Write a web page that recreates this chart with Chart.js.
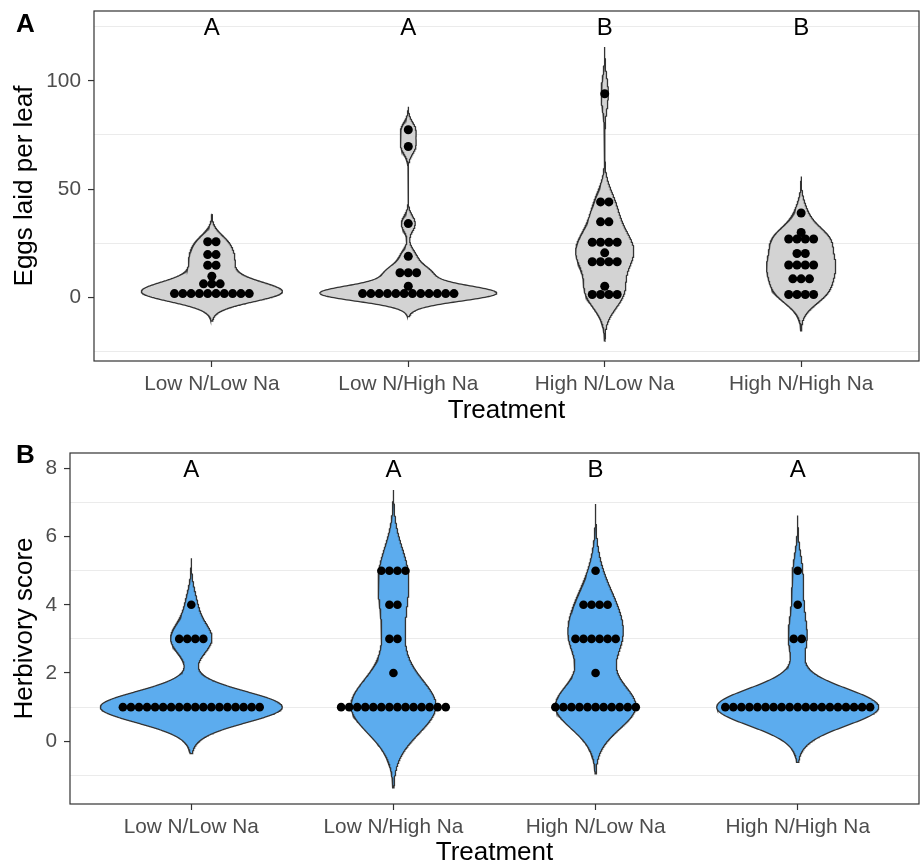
<!DOCTYPE html>
<html>
<head>
<meta charset="utf-8">
<script src="https://cdn.jsdelivr.net/npm/chart.js@4.4.1/dist/chart.umd.min.js"></script>
<style>
  body { margin: 0; background: #fff; }
  #wrap { position: relative; width: 920px; height: 866px; }
  .panel { position: absolute; left: 0; width: 920px; height: 433px; }
</style>
</head>
<body>
<div id="wrap">
  <div class="panel" style="top:0"><canvas id="eggsChart"></canvas></div>
  <div class="panel" style="top:433px"><canvas id="herbChart"></canvas></div>
</div>
<script>
// Data (one entry per dot)
const treatments = ['Low N/Low Na', 'Low N/High Na', 'High N/Low Na', 'High N/High Na'];

const eggsLowLow = [1.8, 1.8, 1.8, 1.8, 1.8, 1.8, 1.8, 1.8, 1.8, 1.8, 6.3, 6.3, 6.3, 9.8, 14.9, 14.9, 19.8, 19.8, 25.7, 25.7];
const eggsLowHigh = [1.8, 1.8, 1.8, 1.8, 1.8, 1.8, 1.8, 1.8, 1.8, 1.8, 1.8, 1.8, 5.2, 11.4, 11.4, 11.4, 19, 34.1, 69.7, 77.4];
const eggsHighLow = [1.4, 1.4, 1.4, 1.4, 5.2, 16.5, 16.5, 16.5, 16.5, 20.6, 25.5, 25.5, 25.5, 25.5, 34.9, 34.9, 44.1, 44.1, 94];
const eggsHighHigh = [1.4, 1.4, 1.4, 1.4, 8.6, 8.6, 8.6, 15, 15, 15, 15, 20.3, 20.3, 27, 27, 27, 27, 30, 39];
const eggsLetters = ['A', 'A', 'B', 'B'];

const herbLowLow = [1, 1, 1, 1, 1, 1, 1, 1, 1, 1, 1, 1, 1, 1, 1, 1, 1, 1, 3, 3, 3, 3, 4];
const herbLowHigh = [1, 1, 1, 1, 1, 1, 1, 1, 1, 1, 1, 1, 1, 1, 2, 3, 3, 4, 4, 5, 5, 5, 5];
const herbHighLow = [1, 1, 1, 1, 1, 1, 1, 1, 1, 1, 1, 2, 3, 3, 3, 3, 3, 3, 4, 4, 4, 4, 5];
const herbHighHigh = [1, 1, 1, 1, 1, 1, 1, 1, 1, 1, 1, 1, 1, 1, 1, 1, 1, 1, 1, 3, 3, 4, 5];
const herbLetters = ['A', 'A', 'B', 'A'];

const eggsTicks = [0, 50, 100];
const eggsMinorGrid = [-25, 25, 75, 125];
const herbTicks = [0, 2, 4, 6, 8];
const herbMinorGrid = [-1, 1, 3, 5, 7];

const FONT = "'Liberation Sans', Arial, Helvetica, sans-serif";
Chart.defaults.font.family = FONT;

// bandwidth like R's bw.nrd0
function bwNrd0(x) {
  const n = x.length;
  const mean = x.reduce((a, b) => a + b, 0) / n;
  const sd = Math.sqrt(x.reduce((a, b) => a + (b - mean) ** 2, 0) / (n - 1));
  const s = x.slice().sort((a, b) => a - b);
  const q = p => {
    const h = (n - 1) * p, lo = Math.floor(h);
    return s[lo] + (h - lo) * (s[Math.min(lo + 1, n - 1)] - s[lo]);
  };
  let lo = Math.min(sd, (q(0.75) - q(0.25)) / 1.34);
  if (!lo) lo = sd || Math.abs(s[0]) || 1;
  return 0.9 * lo * Math.pow(n, -0.2);
}

// gaussian density over min-3bw .. max+3bw (untrimmed violin)
function violinShape(values) {
  const bw = bwNrd0(values);
  const lo = Math.min(...values) - 3 * bw;
  const hi = Math.max(...values) + 3 * bw;
  const ys = [], ds = [];
  for (let i = 0; i < 512; i++) {
    const y = lo + (hi - lo) * i / 511;
    let d = 0;
    values.forEach(v => { d += Math.exp(-0.5 * ((y - v) / bw) ** 2); });
    ys.push(y);
    ds.push(d / (values.length * bw * Math.sqrt(2 * Math.PI)));
  }
  return { ys, ds };
}

const panelDecor = {
  id: 'panelDecor',
  afterDraw(chart, args, opts) {
    const { ctx, chartArea: a, scales } = chart;
    ctx.save();
    ctx.strokeStyle = '#333333';
    ctx.lineWidth = 1.2;
    ctx.strokeRect(a.left, a.top, a.right - a.left, a.bottom - a.top);
    ctx.fillStyle = '#000';
    ctx.textAlign = 'center';
    ctx.textBaseline = 'middle';
    ctx.font = '24px ' + FONT;
    opts.letters.forEach((l, i) => {
      ctx.fillText(l, scales.x.getPixelForValue(i + 1), scales.y.getPixelForValue(opts.level) + 2);
    });
    ctx.textAlign = 'left';
    ctx.font = 'bold 26px ' + FONT;
    ctx.fillText(opts.tag, 16, opts.tagY);
    ctx.restore();
  }
};

function buildPanel(id, groups, o) {
  const shapes = groups.map(violinShape);
  const maxDens = Math.max(...shapes.map(s => Math.max(...s.ds)));
  const datasets = [];

  groups.forEach((vals, g) => {
    const c = g + 1, s = shapes[g];
    const right = s.ys.map((y, i) => ({ x: c + 0.45 * s.ds[i] / maxDens, y }));
    const left = s.ys.map((y, i) => ({ x: c - 0.45 * s.ds[i] / maxDens, y })).reverse();
    datasets.push({
      data: right.concat(left, [right[0]]),
      showLine: true,
      fill: 'shape',
      backgroundColor: o.fill,
      borderColor: '#333333',
      borderWidth: 1.3,
      pointRadius: 0,
      order: 2
    });
  });

  groups.forEach((vals, g) => {
    const counts = new Map();
    vals.forEach(v => counts.set(v, (counts.get(v) || 0) + 1));
    const pts = [];
    counts.forEach((n, v) => {
      for (let j = 0; j < n; j++) pts.push({ x: g + 1 + (j - (n - 1) / 2) * o.dotStep, y: v });
    });
    datasets.push({
      data: pts,
      backgroundColor: '#000',
      borderWidth: 0,
      pointRadius: o.dotRadius,
      order: 1
    });
  });

  const allY = o.minorGrid.concat(o.ticks).sort((a, b) => a - b);

  return new Chart(document.getElementById(id), {
    type: 'scatter',
    data: { datasets },
    options: {
      responsive: true,
      maintainAspectRatio: false,
      animation: false,
      events: [],
      layout: { padding: { left: 0, right: 1, top: o.top, bottom: 0 }, autoPadding: false },
      plugins: {
        legend: { display: false },
        tooltip: { enabled: false },
        panelDecor: { letters: o.letters, level: o.letterLevel, tag: o.tag, tagY: o.tagY }
      },
      scales: {
        x: {
          type: 'linear',
          min: 0.4,
          max: 4.6,
          afterBuildTicks: s => { s.ticks = treatments.map((t, i) => ({ value: i + 1 })); },
          afterFit: s => { s.height = o.xHeight; s.paddingLeft = 0; s.paddingRight = 0; },
          ticks: {
            callback: v => treatments[v - 1],
            autoSkip: false,
            maxRotation: 0,
            color: '#4d4d4d',
            font: { size: 20.8 },
            padding: 5
          },
          grid: { drawOnChartArea: false, drawTicks: true, tickLength: 6, tickColor: '#333333', tickWidth: 1.2 },
          border: { display: false },
          title: {
            display: true, text: 'Treatment', color: '#000',
            font: { size: 26, lineHeight: 1 },
            padding: { top: 0, bottom: o.xTitlePad }
          }
        },
        y: {
          min: o.yMin,
          max: o.yMax,
          afterBuildTicks: s => { s.ticks = allY.map(v => ({ value: v })); },
          afterFit: s => { s.width = o.yWidth; s.paddingTop = 0; s.paddingBottom = 0; },
          ticks: {
            callback: v => (o.ticks.includes(v) ? String(v) : ''),
            color: '#4d4d4d',
            font: { size: 20.8 },
            padding: 7
          },
          grid: {
            color: c => (c.tick && o.minorGrid.includes(c.tick.value) ? '#ebebeb' : 'rgba(0,0,0,0)'),
            lineWidth: 1.1,
            drawTicks: true,
            tickLength: 6,
            tickColor: c => (c.tick && o.ticks.includes(c.tick.value) ? '#333333' : 'rgba(0,0,0,0)'),
            tickWidth: 1.2
          },
          border: { display: false },
          title: {
            display: true, text: o.yTitle, color: '#000',
            font: { size: 26, lineHeight: 1 },
            padding: { top: 12, bottom: 0 }
          }
        }
      }
    },
    plugins: [panelDecor]
  });
}

buildPanel('eggsChart', [eggsLowLow, eggsLowHigh, eggsHighLow, eggsHighHigh], {
  fill: '#d3d3d3', dotRadius: 4.5, dotStep: 0.0423,
  ticks: eggsTicks, minorGrid: eggsMinorGrid, yMin: -29.3, yMax: 132.2,
  yTitle: 'Eggs laid per leaf', letters: eggsLetters, letterLevel: 125,
  tag: 'A', tagY: 25, top: 11, xHeight: 72, yWidth: 94, xTitlePad: 9
});

buildPanel('herbChart', [herbLowLow, herbLowHigh, herbHighLow, herbHighHigh], {
  fill: '#5cacee', dotRadius: 4.3, dotStep: 0.0398,
  ticks: herbTicks, minorGrid: herbMinorGrid, yMin: -1.84, yMax: 8.45,
  yTitle: 'Herbivory score', letters: herbLetters, letterLevel: 8,
  tag: 'B', tagY: 22.5, top: 20, xHeight: 62, yWidth: 70, xTitlePad: 0
});
</script>
</body>
</html>
